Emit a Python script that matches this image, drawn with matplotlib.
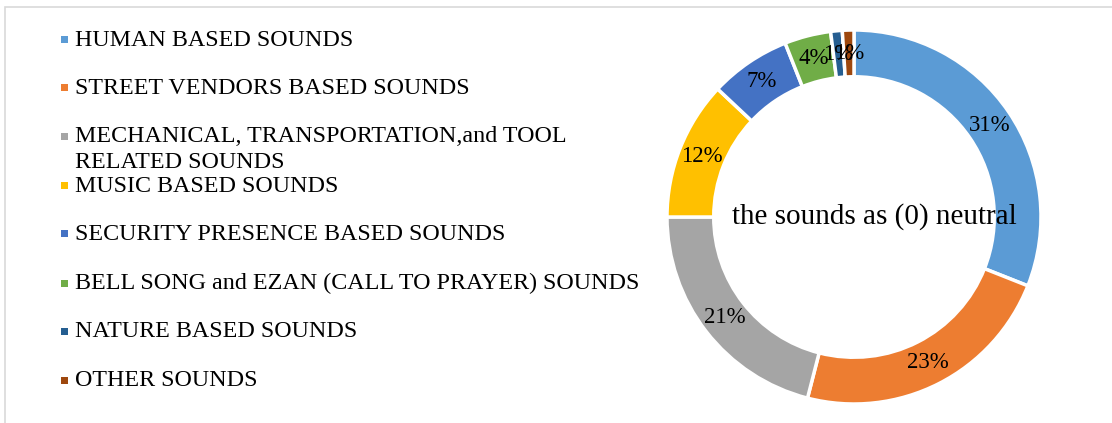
import numpy as np
import matplotlib.pyplot as plt
from matplotlib.patches import Rectangle

plt.rcParams['font.family'] = ['Liberation Serif', 'DejaVu Serif']

# Donnees
categories = ["HUMAN BASED SOUNDS",
              "STREET VENDORS BASED SOUNDS",
              "MECHANICAL, TRANSPORTATION,and TOOL\nRELATED SOUNDS",
              "MUSIC BASED SOUNDS",
              "SECURITY PRESENCE BASED SOUNDS",
              "BELL SONG and EZAN (CALL TO PRAYER) SOUNDS",
              "NATURE BASED SOUNDS",
              "OTHER SOUNDS"]
values = [31, 23, 21, 12, 7, 4, 1, 1]
colors = ['#5B9BD5', '#ED7D31', '#A5A5A5', '#FFC000',
          '#4472C4', '#70AD47', '#255E91', '#9E480E']
center_text = "the sounds as (0) neutral"

W, H = 1112, 423
fig = plt.figure(figsize=(W / 100, H / 100), dpi=100)

# cadre gris
fig.add_artist(Rectangle((5 / W, -0.1), 1.2, (H - 7) / H + 0.1, transform=fig.transFigure,
                         fill=False, edgecolor='#D9D9D9', linewidth=1.2))

# donut
cx, cy, R = 854, 217, 187
ax = fig.add_axes([(cx - R) / W, (H - cy - R) / H, 2 * R / W, 2 * R / H])
width = 0.25
wedges, _ = ax.pie(values, colors=colors, startangle=90, counterclock=False,
                   radius=1, wedgeprops=dict(width=width, edgecolor='white', linewidth=2.5))
ax.set_xlim(-1, 1)
ax.set_ylim(-1, 1)
ax.set_aspect('equal')
ax.axis('off')

rmid = 1 - width / 2
for w, v in zip(wedges, values):
    ang = np.deg2rad((w.theta1 + w.theta2) / 2)
    ax.text(rmid * np.cos(ang), rmid * np.sin(ang), f"{v}%",
            ha='center', va='center', fontsize=16.5)

# texte central un peu decale vers la droite comme dans l'original
ax.text(0.11, 0, center_text, ha='center', va='center', fontsize=21)

# legende a la main
ys = [40, 88, 137, 186, 234, 283, 331, 380]
for lab, col, y in zip(categories, colors, ys):
    fig.add_artist(Rectangle((61 / W, (H - y - 3.5) / H), 7 / W, 7 / H,
                             transform=fig.transFigure, facecolor=col, edgecolor='none'))
    for i, line in enumerate(lab.split('\n')):
        fig.text(75 / W, (H - y - 26 * i) / H, line, ha='left', va='center', fontsize=17.3)

fig.savefig('out.png', dpi=100)
